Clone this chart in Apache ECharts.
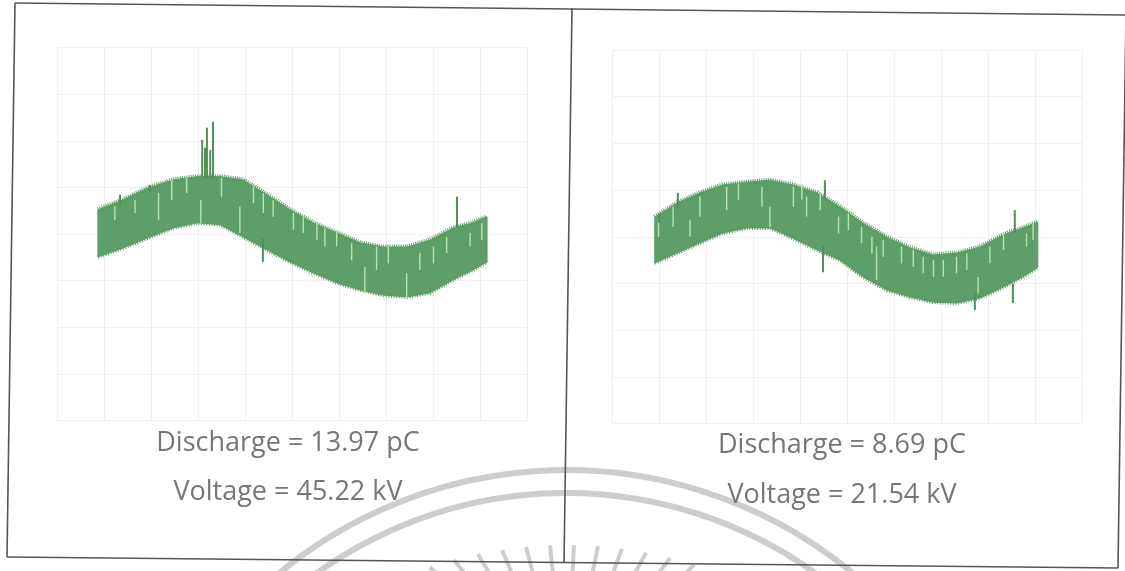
<!DOCTYPE html>
<html>
<head>
<meta charset="utf-8">
<script src="https://cdn.jsdelivr.net/npm/echarts@6/dist/echarts.min.js"></script>
<style>
  html, body { margin: 0; padding: 0; background: #fff; }
  #main { width: 1125px; height: 571px; }
</style>
</head>
<body>
<div id="main"></div>
<script>
// screen units: x = 0..10 divisions, y = 0..8 divisions
var leftX      = [0.87, 1.40, 1.94, 2.47, 2.98, 3.47, 3.96, 4.47, 4.96, 5.45, 5.96, 6.45, 6.94, 7.45, 7.94, 8.43, 8.85, 9.15];
var leftTop    = [4.52, 4.73, 4.99, 5.16, 5.23, 5.23, 5.16, 4.84, 4.52, 4.24, 4.02, 3.81, 3.72, 3.72, 3.87, 4.13, 4.24, 4.37];
var leftBottom = [3.51, 3.70, 3.92, 4.13, 4.24, 4.20, 3.94, 3.66, 3.40, 3.17, 2.95, 2.80, 2.69, 2.65, 2.74, 3.02, 3.23, 3.40];
// [x, from, to]
var leftSpikes = [[3.09, 5.2, 6.02], [3.15, 5.2, 5.85], [3.19, 5.2, 6.28], [3.32, 5.2, 6.41], [3.26, 5.2, 5.80],
                  [8.51, 4.15, 4.80], [4.38, 3.40, 3.90], [1.34, 4.6, 4.84], [1.98, 4.9, 5.05]];
var leftGaps = [[1.23, 4.59, 4.30], [1.66, 4.73, 4.45], [2.16, 4.88, 4.30], [2.44, 5.16, 4.73], [2.76, 5.20, 4.88],
                [3.06, 4.73, 4.23], [3.50, 5.20, 4.80], [3.89, 4.59, 4.02], [4.18, 5.02, 4.66], [4.39, 4.88, 4.45],
                [4.60, 4.73, 4.37], [5.03, 4.45, 4.09], [5.24, 4.37, 4.02], [5.53, 4.23, 3.87], [5.70, 4.12, 3.73],
                [5.95, 4.09, 3.73], [6.27, 3.80, 3.44], [6.55, 3.30, 2.73], [6.80, 3.73, 3.23], [7.05, 3.73, 3.37],
                [7.44, 3.16, 2.59], [7.72, 3.59, 3.23], [8.01, 3.73, 3.37], [8.29, 3.94, 3.59], [8.79, 4.02, 3.73],
                [9.04, 4.23, 3.87]];

var rightX      = [0.91, 1.38, 1.87, 2.36, 2.87, 3.36, 3.85, 4.36, 4.85, 5.34, 5.85, 6.34, 6.83, 7.34, 7.83, 8.32, 8.74, 9.06];
var rightTop    = [4.42, 4.72, 4.94, 5.11, 5.17, 5.21, 5.11, 4.94, 4.64, 4.29, 3.99, 3.76, 3.61, 3.65, 3.78, 4.04, 4.19, 4.31];
var rightBottom = [3.44, 3.65, 3.87, 4.08, 4.19, 4.19, 3.97, 3.72, 3.50, 3.14, 2.86, 2.71, 2.60, 2.58, 2.69, 2.92, 3.14, 3.35];
var rightSpikes = [[1.40, 4.6, 4.94], [4.53, 4.8, 5.21], [8.57, 4.1, 4.57], [4.49, 3.24, 3.8], [7.72, 2.43, 2.8],
                   [8.53, 2.58, 3.0], [1.00, 4.3, 4.5]];
var rightGaps = [[0.99, 4.43, 4.00], [1.30, 4.64, 4.21], [1.66, 4.36, 4.00], [1.87, 4.86, 4.43], [2.44, 5.07, 4.57],
                 [2.69, 5.14, 4.79], [3.19, 5.07, 4.64], [3.36, 4.64, 4.21], [3.86, 5.07, 4.64], [4.04, 5.14, 4.79],
                 [4.14, 4.86, 4.43], [4.43, 4.93, 4.57], [4.82, 4.43, 4.07], [5.03, 4.50, 4.14], [5.31, 4.21, 3.86],
                 [5.53, 4.00, 3.64], [5.63, 3.79, 3.07], [5.77, 3.93, 3.57], [6.16, 3.79, 3.43], [6.41, 3.72, 3.36],
                 [6.62, 3.57, 3.22], [6.84, 3.50, 3.14], [7.05, 3.50, 3.14], [7.33, 3.57, 3.22], [7.55, 3.64, 3.29],
                 [7.79, 3.14, 2.79], [8.04, 3.79, 3.43], [8.33, 4.07, 3.72], [8.82, 4.07, 3.79], [8.96, 4.29, 3.93]];

var leftLabels  = ['Discharge = 13.97 pC', 'Voltage = 45.22 kV'];
var rightLabels = ['Discharge = 8.69 pC', 'Voltage = 21.54 kV'];

var GREEN = '#5e9e68';
var chart = echarts.init(document.getElementById('main'));

function strokeItem(w) {
    return function(params, api) {
        var p1 = api.coord([api.value(0), api.value(1)]);
        var p2 = api.coord([api.value(0), api.value(2)]);
        return {
            type: 'line',
            shape: { x1: p1[0], y1: p1[1], x2: p2[0], y2: p2[1] },
            style: { stroke: api.visual('color'), lineWidth: w }
        };
    };
}

// band: top edge left->right, bottom edge back, with a dotted rim
// so the edge looks ragged like the scope trace
function bandItem(xs, top, bottom) {
    return function(params, api) {
        var upper = xs.map(function(x, i) { return api.coord([x, top[i]]); });
        var lower = xs.map(function(x, i) { return api.coord([x, bottom[i]]); });
        var pts = upper.concat(lower.slice().reverse());
        return {
            type: 'group',
            children: [{
                type: 'polygon',
                shape: { points: pts },
                style: { fill: GREEN, stroke: GREEN, lineWidth: 1, lineJoin: 'round' }
            }, {
                type: 'polyline',
                shape: { points: upper },
                style: { fill: null, stroke: '#5a9a64', lineWidth: 5, lineDash: [1, 1.2], lineJoin: 'round' }
            }, {
                type: 'polyline',
                shape: { points: lower },
                style: { fill: null, stroke: '#5a9a64', lineWidth: 4, lineDash: [1, 1.6], lineJoin: 'round' }
            }]
        };
    };
}

function bandSeries(idx, xs, top, bottom, spikes, gaps) {
    return [{
        type: 'custom', xAxisIndex: idx, yAxisIndex: idx, silent: true,
        renderItem: bandItem(xs, top, bottom), data: [[xs[0], top[0]]]
    }, {
        type: 'custom', xAxisIndex: idx, yAxisIndex: idx, silent: true,
        renderItem: strokeItem(1.4), data: gaps,
        itemStyle: { color: '#b9e6ab' }, encode: { x: 0, y: [1, 2] }
    }, {
        type: 'custom', xAxisIndex: idx, yAxisIndex: idx, silent: true,
        renderItem: strokeItem(2), data: spikes,
        itemStyle: { color: '#4f8f5a' }, encode: { x: 0, y: [1, 2] }
    }];
}

function axisX(idx) {
    return {
        type: 'value', gridIndex: idx, min: 0, max: 10, interval: 1,
        axisLine: { show: false }, axisTick: { show: false }, axisLabel: { show: false },
        splitLine: { lineStyle: { color: '#f0f0f0', width: 1 } }
    };
}
function axisY(idx) {
    return {
        type: 'value', gridIndex: idx, min: 0, max: 8, interval: 1,
        axisLine: { show: false }, axisTick: { show: false }, axisLabel: { show: false },
        splitLine: { lineStyle: { color: '#f0f0f0', width: 1 } }
    };
}

function labelTexts(lines, cx, cy) {
    return lines.map(function(t, i) {
        return {
            type: 'text', x: cx, y: cy[i], z: 10,
            style: {
                text: t, fontSize: 27, fontFamily: 'Open Sans', fill: '#767676',
                align: 'center', verticalAlign: 'middle'
            }
        };
    });
}

// faint seal of the scanned page: two rings and a fan of rays
function watermark() {
    var els = [];
    var cx = 566;
    [450, 427].forEach(function(r) {
        els.push({
            type: 'arc', z: 5,
            shape: { cx: cx, cy: 920, r: r, startAngle: Math.PI * 1.1, endAngle: Math.PI * 1.9 },
            style: { stroke: '#cdcdcd', lineWidth: 6, fill: null }
        });
    });
    for (var x = 430; x <= 720; x += 24) {
        var ty = 545 + 0.0012 * (x - cx) * (x - cx);
        var dx = cx - x, dy = 700 - ty;
        var len = Math.sqrt(dx * dx + dy * dy);
        els.push({
            type: 'line', z: 5,
            shape: { x1: x, y1: ty, x2: x + dx / len * 60, y2: ty + dy / len * 60 },
            style: { stroke: '#cdcdcd', lineWidth: 4 }
        });
    }
    return els;
}

function frame() {
    var segs = [
        [15, 3, 1125, 15], [15, 3, 7, 557], [7, 557, 1118, 568],
        [1118, 568, 1126, 14], [572, 8, 564, 563]
    ];
    return segs.map(function(s) {
        return {
            type: 'line', z: 8,
            shape: { x1: s[0], y1: s[1], x2: s[2], y2: s[3] },
            style: { stroke: '#555', lineWidth: 1.6 }
        };
    });
}

var option = {
    backgroundColor: '#ffffff',
    animation: false,
    grid: [
        { left: 57, top: 47.5, width: 470, height: 373 },
        { left: 612, top: 50, width: 470, height: 373.5 }
    ],
    xAxis: [axisX(0), axisX(1)],
    yAxis: [axisY(0), axisY(1)],
    series: bandSeries(0, leftX, leftTop, leftBottom, leftSpikes, leftGaps)
        .concat(bandSeries(1, rightX, rightTop, rightBottom, rightSpikes, rightGaps)),
    graphic: watermark()
        .concat(frame())
        .concat(labelTexts(leftLabels, 288, [443, 492]))
        .concat(labelTexts(rightLabels, 842, [445, 495]))
};

chart.setOption(option);
</script>
</body>
</html>
